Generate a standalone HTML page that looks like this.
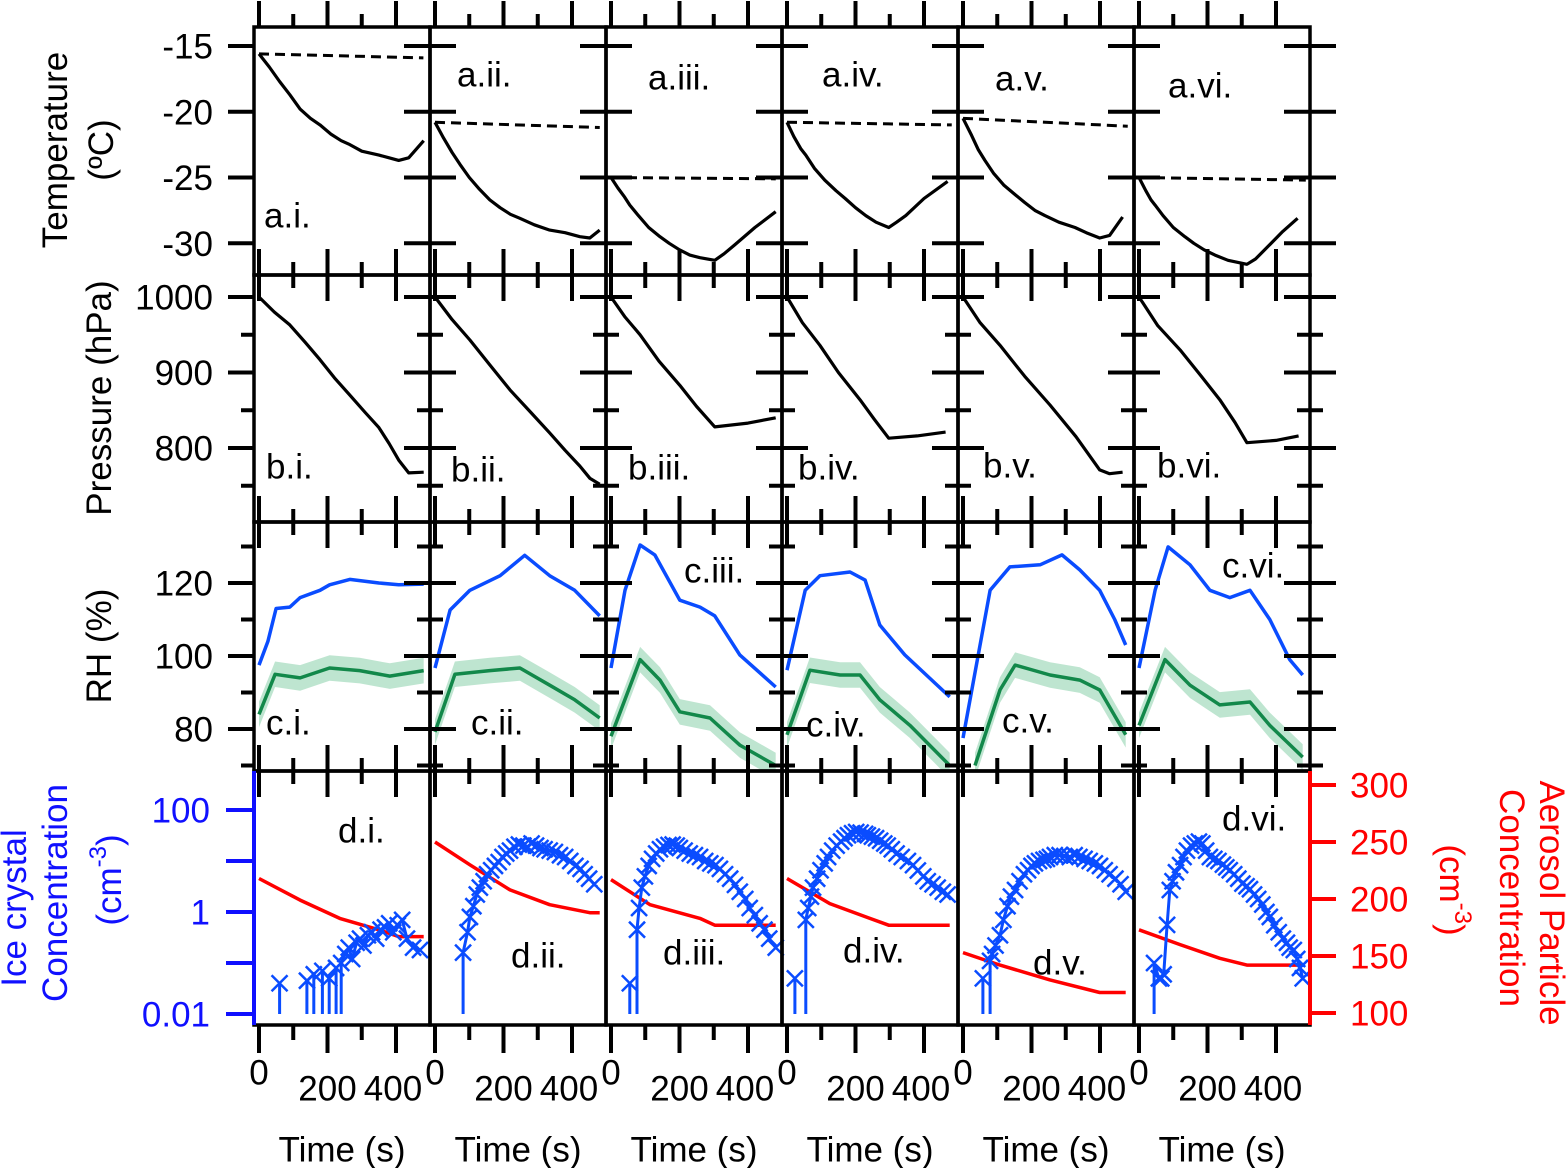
<!DOCTYPE html>
<html><head><meta charset="utf-8"><style>
html,body{margin:0;padding:0;background:#fff;}
svg{display:block;font-family:"Liberation Sans",Arial,sans-serif;}
</style></head><body>
<svg id="chart" width="1566" height="1168" viewBox="0 0 1566 1168" xmlns="http://www.w3.org/2000/svg">
<defs>
<clipPath id="cpA"><rect x="254" y="27" width="1056" height="248"/></clipPath>
<clipPath id="cpB"><rect x="254" y="275" width="1056" height="247"/></clipPath>
<clipPath id="cpC"><rect x="254" y="522" width="1056" height="249"/></clipPath>
<clipPath id="cpD"><rect x="254" y="771" width="1056" height="254"/></clipPath>
</defs>
<g id="marks"></g>
<g id="frames"></g>
<g id="labels" font-size="35" fill="#000">
<text transform="translate(67,150) rotate(-90)" text-anchor="middle">Temperature</text>
<text transform="translate(113,150) rotate(-90)" text-anchor="middle">(ºC)</text>
<text transform="translate(111,398) rotate(-90)" text-anchor="middle">Pressure (hPa)</text>
<text transform="translate(111,646) rotate(-90)" text-anchor="middle">RH (%)</text>
<text transform="translate(26,908) rotate(-90)" text-anchor="middle" fill="#1010ff">Ice crystal</text>
<text transform="translate(67,893) rotate(-90)" text-anchor="middle" fill="#1010ff">Concentration</text>
<text transform="translate(121,880) rotate(-90)" text-anchor="middle" fill="#1010ff">(cm<tspan dy="-15" font-size="24">-3</tspan><tspan dy="15">)</tspan></text>
<text transform="translate(1540,903) rotate(90)" text-anchor="middle" fill="#ff0000">Aerosol Particle</text>
<text transform="translate(1500,898) rotate(90)" text-anchor="middle" fill="#ff0000">Concentration</text>
<text transform="translate(1440,890) rotate(90)" text-anchor="middle" fill="#ff0000">(cm<tspan dy="-15" font-size="24">-3</tspan><tspan dy="15">)</tspan></text>
</g>
</svg>
<script>
const NS='http://www.w3.org/2000/svg';
// ---------- data ----------
const panelNames=['i','ii','iii','iv','v','vi'];
const xTickValues=[0,100,200,300,400];
const xTickLabels=['0','200','400'];
const tempTicks=[-15,-20,-25,-30];
const presTicks=[1000,950,900,850,800,750];
const presLabels=[1000,900,800];
const rhTicks=[130,120,110,100,90,80,70];
const rhLabels=[120,100,80];
const iceTicks=[100,10,1,0.1,0.01];
const iceLabels=[100,1,0.01];
const aerTicks=[300,250,200,150,100];
// Temperature solid
const tempTime=[
 [0,30,60,90,120,150,178,210,240,265,300,350,380,408,437,481],
 [0,25,50,73,100,130,160,190,220,248,290,335,380,423,452,481],
 [0,20,40,55,80,110,143,170,200,230,260,303,330,362,420,481],
 [0,20,40,55,80,110,143,170,200,230,260,297,320,347,400,469],
 [0,25,45,64,90,120,152,180,210,239,280,327,360,399,428,466],
 [0,20,35,47,70,100,134,160,190,222,260,315,340,367,420,463]];
const tempVal=[
 [-15.6,-16.6,-17.7,-18.7,-19.8,-20.5,-21.0,-21.7,-22.2,-22.5,-23.0,-23.3,-23.5,-23.7,-23.5,-22.2],
 [-20.8,-22.0,-23.1,-24.0,-25.0,-25.9,-26.7,-27.3,-27.8,-28.1,-28.6,-29.0,-29.2,-29.5,-29.6,-29.0],
 [-25,-25.8,-26.5,-27.1,-27.9,-28.8,-29.5,-30.0,-30.5,-30.9,-31.1,-31.3,-30.8,-30.1,-28.8,-27.6],
 [-20.8,-21.9,-22.8,-23.3,-24.3,-25.2,-26,-26.6,-27.3,-27.9,-28.4,-28.8,-28.4,-27.9,-26.6,-25.3],
 [-20.5,-21.8,-22.9,-23.7,-24.7,-25.6,-26.3,-26.9,-27.5,-27.9,-28.4,-28.8,-29.2,-29.6,-29.4,-28.0],
 [-25,-26.0,-26.7,-27.1,-27.9,-28.8,-29.5,-30.0,-30.5,-30.9,-31.3,-31.6,-31.2,-30.5,-29.1,-28.1]];
// Temperature dashed (wall)
const wallStart=[-15.6,-20.8,-25,-20.8,-20.5,-25];
const wallEnd=[-15.9,-21.2,-25.1,-21.0,-21.1,-25.2];
const wallEndTime=[480,481,481,481,481,487];
// Pressure
const presTime=[
 [0,45,90,135,178,220,265,310,350,380,408,437,481],
 [0,50,102,160,219,280,335,380,423,452,481],
 [0,40,85,140,201,250,303,400,481],
 [0,45,96,150,213,255,297,380,463],
 [0,50,108,180,254,330,399,428,466],
 [0,55,120,180,236,280,315,400,466]];
const presVal=[
 [1000,980,963,940,917,893,870,847,827,806,784,767,768],
 [1000,970,943,910,877,847,820,797,776,760,752],
 [1000,974,950,915,883,855,828,833,840],
 [1000,966,936,900,864,838,813,816,821],
 [1000,966,936,895,857,815,771,766,768],
 [1000,962,930,896,864,834,807,810,816]];
// RH ice (blue)
const rhiTime=[
 [0,26,50,90,120,178,206,265,350,408,481],
 [0,44,102,190,262,335,408,481],
 [0,41,85,128,201,260,303,376,481],
 [0,53,96,184,228,271,344,475],
 [0,79,137,225,289,341,399,443,475],
 [0,47,85,149,207,265,324,382,440,478]];
const rhiVal=[
 [97.5,104,113,113.4,116,118,119.5,121,120,119.5,119.7],
 [96.7,112.6,118,122,127.6,122,118,111],
 [96.7,118,130.4,127.7,115.3,113.4,111,100.3,91.5],
 [96.1,118,122,123,120.8,108.5,100.3,88.8],
 [77.5,118,124.4,125,127.7,123.6,118,110,103],
 [96.7,118,129.9,125,118,116,118,110,99,94.8]];
// RH water (green)
const rhwTime=[
 [0,47,120,206,294,382,481],
 [0,58,160,248,335,408,481],
 [0,85,143,201,289,376,481],
 [0,67,155,213,271,359,475],
 [35,108,152,254,341,399,475],
 [0,76,149,236,324,382,478]];
const rhwVal=[
 [84,95,94,96.7,96,94.5,96],
 [79.2,95,96,96.7,92,88,83],
 [78,99,93.4,84.7,83,75.6,70],
 [78.4,96.1,94.8,94.8,88,81,70],
 [70,90.7,97.5,94.8,93.4,90.7,78.4],
 [81,99,92,86.6,87.4,81,72.3]];
const rhwBand=[3.5,3.5,3.5,3.5,3.5,3.5];
// Aerosol (red)
const aerTime=[
 [0,120,236,350,408,481],
 [0,102,219,335,452,481],
 [0,114,260,303,481],
 [0,125,242,297,475],
 [0,108,254,399,475],
 [0,120,236,315,478]];
const aerVal=[
 [218,199,183,173,167,167],
 [250,230,208,195,188,188],
 [217,195,183,177,177],
 [218,196,183,177,177],
 [153,142,129,118,118],
 [173,160,148,142,142]];
// Ice crystal number (blue x), 0 = none detected
const iceTime=[
 [50,60,70,140,148,160,166,185,205,210,225,232,240,252,262,272,285,295,305,318,330,342,355,368,380,392,405,418,432,450,470],
 [75,82,95,102,112,122,131,142,152,164,175,186,197,208,219,232,245,258,270,282,295,308,320,335,350,365,380,395,410,425,437,450,465,481],
 [45,55,65,76,82,90,99,110,120,132,143,155,168,180,192,201,215,230,245,260,275,290,305,318,333,348,362,376,392,405,420,434,448,462,481],
 [15,23,40,55,62,70,76,88,98,110,120,132,145,158,168,178,190,202,215,228,236,248,260,272,284,294,306,320,335,353,368,382,398,411,425,440,455,469],
 [50,58,70,79,85,95,108,118,130,140,152,165,178,190,200,210,222,235,245,254,268,282,296,312,326,340,355,370,385,400,414,428,445,460,475],
 [35,44,58,65,72,82,90,98,108,120,130,140,152,163,175,185,196,207,220,232,245,255,265,278,290,302,314,324,336,348,360,372,382,395,408,420,432,440,452,462,470,478]];
const iceVal=[
 [0,0.04,0,0.045,0,0.06,0,0.07,0.05,0,0.08,0,0.1,0.15,0.2,0.12,0.25,0.3,0.22,0.35,0.4,0.3,0.45,0.5,0.6,0.4,0.55,0.7,0.3,0.2,0.18],
 [0,0.16,0.4,0.8,1.3,2.2,3,4,5.5,6.6,8,9.5,12,14,16,19,21,20,19,22,20,18,17,16,15,13,12,10,8,7,5.5,4.5,3.5],
 [0,0.04,0,0.45,1.2,3,5,8,11,14,17,19,20.6,21,20,18,16,14,13,12,10,9,8.3,7,5.5,4.5,3.4,2.5,1.8,1.2,0.87,0.6,0.45,0.3,0.2],
 [0,0.05,0,0.7,1.2,2,3,4.5,6.6,9,12,16,20,24,28,32,35,37,36,34,32,30,28,25,22,20,17,14,12,10,8.3,6.5,5,4,3.5,3,2.5,2.2],
 [0,0.05,0,0.11,0.15,0.22,0.35,0.7,1.3,2,2.7,4,5.5,6.6,8,9,10,10.5,11,12,13,13,12.5,12,13,12,11,10,9,8,6.6,5.5,4.5,3.5,2.5],
 [0,0.1,0.05,0.05,0.06,0.56,2.7,4,6,8.3,12,16,20,22,24,22,16,12,11,10,8.5,7.5,6.6,5.5,4.5,3.6,3.2,2.8,2.2,1.8,1.4,1,0.8,0.55,0.4,0.3,0.25,0.2,0.18,0.12,0.08,0.05]];
const labA=[[264,216],[457,75],[648,78],[822,75],[995,79],[1168,86]];
const labB=[[266,467],[451,470],[628,468],[798,468],[983,466],[1157,466]];
const labC=[[266,723],[471,723],[684,571],[806,725],[1002,721],[1222,566]];
const labD=[[338,831],[511,956],[663,953],[843,951],[1033,963],[1222,819]];

// ---------- scales ----------
const colX0=254, colW=176;
const rowTop=[27,275,522,771], rowBot=[275,522,771,1025];
function xs(i,t){return 259+colW*i+t*0.3425;}
function yT(v){return 46+(-15-v)*13.15;}
function yP(p){return 297+(1000-p)*0.755;}
function yR(r){return 583+(120-r)*3.65;}
function yN(n){return 810+(2-Math.log10(n))*51;}
function yA(a){return 785+(300-a)*1.14;}

const marks=document.getElementById('marks');
const frames=document.getElementById('frames');
function mk(tag,attrs,parent){const e=document.createElementNS(NS,tag);for(const k in attrs)e.setAttribute(k,attrs[k]);(parent||marks).appendChild(e);return e;}
function pathFrom(ts,vs,i,yf){return ts.map((t,k)=>(k?'L':'M')+xs(i,t).toFixed(1)+','+yf(vs[k]).toFixed(1)).join(' ');}

const gA=mk('g',{'clip-path':'url(#cpA)'});
const gB=mk('g',{'clip-path':'url(#cpB)'});
const gC=mk('g',{'clip-path':'url(#cpC)'});
const gD=mk('g',{'clip-path':'url(#cpD)'});

for(let i=0;i<6;i++){
 let e=mk('path',{d:'M'+xs(i,0)+','+yT(wallStart[i])+' L'+xs(i,wallEndTime[i])+','+yT(wallEnd[i]),fill:'none',stroke:'#000','stroke-width':3,'stroke-dasharray':'10,6'},gA);
 
 
 e=mk('path',{d:pathFrom(tempTime[i],tempVal[i],i,yT),fill:'none',stroke:'#000','stroke-width':3.2,'stroke-linejoin':'round'},gA);
 
 
 e=mk('path',{d:pathFrom(presTime[i],presVal[i],i,yP),fill:'none',stroke:'#000','stroke-width':3.2,'stroke-linejoin':'round'},gB);
 
 
 const ts=rhwTime[i], vs=rhwVal[i], b=rhwBand[i];
 let d=ts.map((t,k)=>(k?'L':'M')+xs(i,t).toFixed(1)+','+yR(vs[k]+b).toFixed(1)).join(' ');
 for(let k=ts.length-1;k>=0;k--) d+=' L'+xs(i,ts[k]).toFixed(1)+','+yR(vs[k]-b).toFixed(1);
 e=mk('path',{d:d+' Z',fill:'#a8dcc0','fill-opacity':0.75,stroke:'none'},gC);
 
 
 e=mk('path',{d:pathFrom(ts,vs,i,yR),fill:'none',stroke:'#12884a','stroke-width':3.5,'stroke-linejoin':'round'},gC);
 
 
 e=mk('path',{d:pathFrom(rhiTime[i],rhiVal[i],i,yR),fill:'none',stroke:'#0a4cff','stroke-width':3.5,'stroke-linejoin':'round'},gC);
 
 
 e=mk('path',{d:pathFrom(aerTime[i],aerVal[i],i,yA),fill:'none',stroke:'#ff0000','stroke-width':3.5,'stroke-linejoin':'round'},gD);
 
 
 // ice crystals: zeros create vertical drops beneath adjacent detections
 const it=iceTime[i], iv=iceVal[i];
 const bottomY=yN(0.01);
 let pd='';
 for(let k=0;k<it.length;k++){
  if(iv[k]<=0) continue;
  const x=xs(i,it[k]), y=yN(iv[k]);
  if(k>0 && iv[k-1]<=0){ pd+='M'+x.toFixed(1)+','+bottomY.toFixed(1)+' L'+x.toFixed(1)+','+y.toFixed(1)+' '; }
  else if(k>0){ pd+='L'+x.toFixed(1)+','+y.toFixed(1)+' '; }
  else { pd+='M'+x.toFixed(1)+','+y.toFixed(1)+' '; }
  if(k<it.length-1 && iv[k+1]<=0){ pd+='L'+x.toFixed(1)+','+bottomY.toFixed(1)+' '; }
 }
 e=mk('path',{d:pd,fill:'none',stroke:'#0a4cff','stroke-width':3,'stroke-linejoin':'round'},gD);
 
 
 let md='';
 for(let k=0;k<it.length;k++){ if(iv[k]>0){const x=xs(i,it[k]),y=yN(iv[k]);md+=`M${x-8},${y-8} L${x+8},${y+8} M${x-8},${y+8} L${x+8},${y-8} `;} }
 e=mk('path',{d:md,fill:'none',stroke:'#0a4cff','stroke-width':2.5},gD);
 
 
}

// ---------- frames and ticks ----------
const colEdges=[254,430,606,782,958,1134,1310];
function line(x1,y1,x2,y2,col,w,name){const e=mk('line',{x1,y1,x2,y2,stroke:col||'#000','stroke-width':w||3},frames);return e;}
const hb=[27,275,522,771,1025];
hb.forEach((y,bi)=>{
 for(let i=0;i<6;i++){
  xTickValues.forEach(t=>{
   const maj=(t%200===0); const L=maj?26:13; const x=xs(i,t);
   let y1=y-L,y2=y+L;
   if(bi===0) y2=y;
   if(bi===4){y1=y;y2=y+(maj?28:15);}
   line(x,y1,x,y2,'#000',4,'x-tick');
  });
 }
});
function yticks(ticks,yf,majorSet){
 colEdges.forEach((x,ci)=>{
  ticks.forEach(v=>{
   const maj=!majorSet||majorSet.includes(v); const L=maj?26:13; const y=yf(v);
   let x1=x-L,x2=x+L; if(ci===0)x2=x;
   line(x1,y,x2,y,'#000',4,'y-tick');
  });
 });
}
yticks(tempTicks,yT);
yticks(presTicks,yP,presLabels);
yticks(rhTicks,yR,rhLabels);
iceTicks.forEach(v=>line(226,yN(v),254,yN(v),'#1010ff',4,'ice-axis-tick'));
aerTicks.forEach(v=>line(1310,yA(v),1336,yA(v),'#ff0000',4,'aerosol-axis-tick'));
for(let r=0;r<4;r++){
 for(let i=0;i<6;i++){
  const e=mk('rect',{x:colEdges[i],y:rowTop[r],width:colW,height:rowBot[r]-rowTop[r],fill:'none',stroke:'#000','stroke-width':3.5},frames);
  
  
 }
}
line(254,771,254,1025,'#1010ff',4,'ice-axis-line');
line(1310,771,1310,1025,'#ff0000',4,'aerosol-axis-line');

// ---------- tick labels ----------
const lab=document.getElementById('labels');
function txt(x,y,s,anchor,col,name){const e=mk('text',{x,y,'text-anchor':anchor||'middle','dominant-baseline':'central',fill:col||'#000'},lab);e.textContent=s;return e;}
tempTicks.forEach(v=>txt(213,yT(v)+1,String(v),'end','#000','temperature-tick-label'));
presLabels.forEach(v=>txt(213,yP(v)+1,String(v),'end','#000','pressure-tick-label'));
rhLabels.forEach(v=>txt(213,yR(v)+1,String(v),'end','#000','rh-tick-label'));
iceLabels.forEach(v=>txt(210,yN(v)+1,String(v),'end','#1010ff','ice-tick-label'));
aerTicks.forEach(v=>txt(1350,yA(v)+1,String(v),'start','#ff0000','aerosol-tick-label'));
for(let i=0;i<6;i++){
 txt(xs(i,0),1073,xTickLabels[0],'middle','#000','x-tick-label');
 txt(xs(i,200),1089,xTickLabels[1],'middle','#000','x-tick-label');
 txt(xs(i,400)-3,1089,xTickLabels[2],'middle','#000','x-tick-label');
 txt(colX0+colW*i+88,1150,'Time (s)','middle','#000','x-axis-title');
 const n=panelNames[i];
 txt(labA[i][0],labA[i][1],'a.'+n+'.','start','#000','panel-label-a-'+n);
 txt(labB[i][0],labB[i][1],'b.'+n+'.','start','#000','panel-label-b-'+n);
 txt(labC[i][0],labC[i][1],'c.'+n+'.','start','#000','panel-label-c-'+n);
 txt(labD[i][0],labD[i][1],'d.'+n+'.','start','#000','panel-label-d-'+n);
}
</script>
</body></html>
